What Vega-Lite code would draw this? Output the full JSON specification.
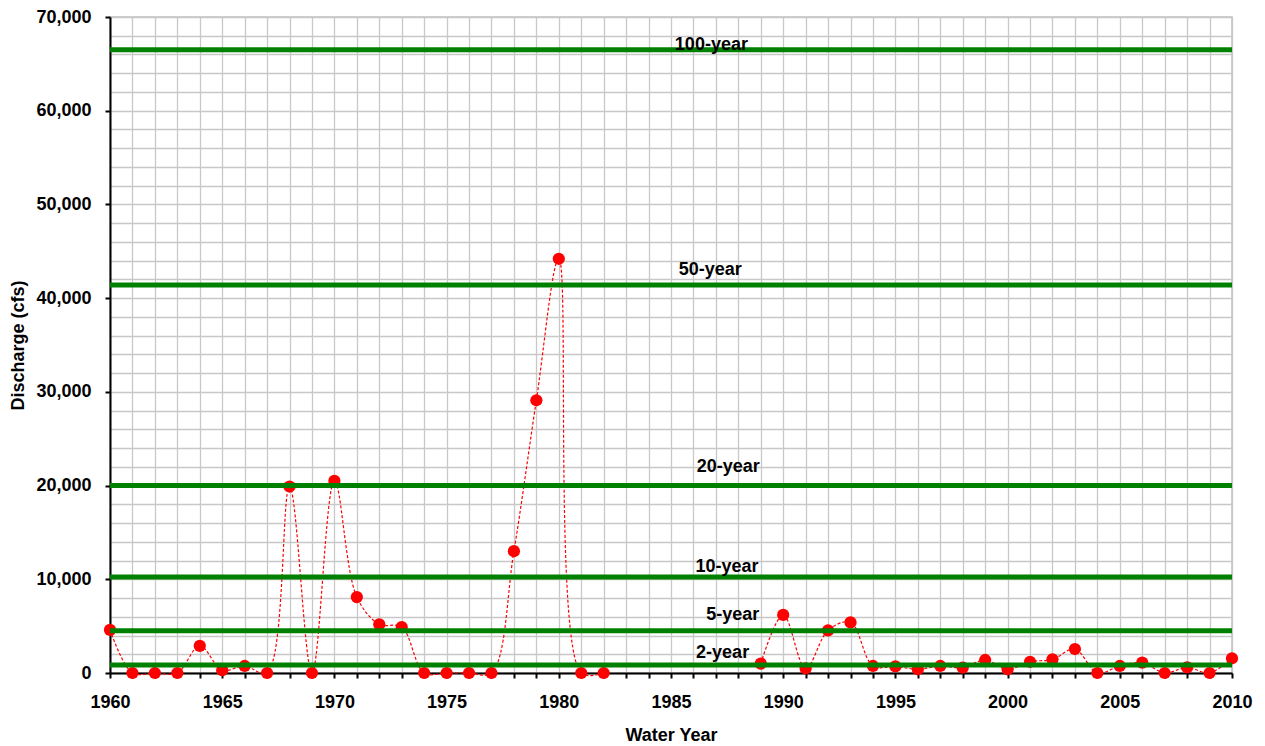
{
  "$schema": "https://vega.github.io/schema/vega-lite/v6.json",
  "width": 1122,
  "height": 656,
  "autosize": "none",
  "padding": {"left": 110, "top": 17, "right": 33, "bottom": 73},
  "background": "white",
  "config": {
    "font": "Liberation Sans",
    "view": {"stroke": "#c0c0c0", "strokeWidth": 1.5},
    "axis": {
      "labelFont": "Liberation Sans",
      "labelFontWeight": "bold",
      "labelFontSize": 18,
      "labelColor": "#000",
      "titleFont": "Liberation Sans",
      "titleFontWeight": "bold",
      "titleFontSize": 18,
      "titleColor": "#000",
      "domainColor": "#000",
      "domainWidth": 2,
      "tickColor": "#000",
      "tickWidth": 2,
      "tickSize": 5,
      "gridColor": "#c8c8c8",
      "gridWidth": 1.3
    }
  },
  "datasets": {
    "flows": [
      {"year": 1960, "q": 4600},
      {"year": 1961, "q": 0},
      {"year": 1962, "q": 0},
      {"year": 1963, "q": 0},
      {"year": 1964, "q": 2900},
      {"year": 1965, "q": 300},
      {"year": 1966, "q": 750},
      {"year": 1967, "q": 0},
      {"year": 1968, "q": 19900},
      {"year": 1969, "q": 0},
      {"year": 1970, "q": 20500},
      {"year": 1971, "q": 8100},
      {"year": 1972, "q": 5200},
      {"year": 1973, "q": 4900},
      {"year": 1974, "q": 0},
      {"year": 1975, "q": 0},
      {"year": 1976, "q": 0},
      {"year": 1977, "q": 0},
      {"year": 1978, "q": 13000},
      {"year": 1979, "q": 29100},
      {"year": 1980, "q": 44200},
      {"year": 1981, "q": 0},
      {"year": 1982, "q": 0},
      {"year": 1983, "q": null},
      {"year": 1984, "q": null},
      {"year": 1985, "q": null},
      {"year": 1986, "q": null},
      {"year": 1987, "q": null},
      {"year": 1988, "q": null},
      {"year": 1989, "q": 1000},
      {"year": 1990, "q": 6200},
      {"year": 1991, "q": 500},
      {"year": 1992, "q": 4550},
      {"year": 1993, "q": 5400},
      {"year": 1994, "q": 750},
      {"year": 1995, "q": 700},
      {"year": 1996, "q": 400},
      {"year": 1997, "q": 750},
      {"year": 1998, "q": 570},
      {"year": 1999, "q": 1390},
      {"year": 2000, "q": 400},
      {"year": 2001, "q": 1200},
      {"year": 2002, "q": 1460},
      {"year": 2003, "q": 2560},
      {"year": 2004, "q": 0},
      {"year": 2005, "q": 750},
      {"year": 2006, "q": 1100},
      {"year": 2007, "q": 0},
      {"year": 2008, "q": 600},
      {"year": 2009, "q": 0},
      {"year": 2010, "q": 1570}
    ],
    "levels": [
      {"label": "100-year", "q": 66500, "year": 1986.8, "labelQ": 67000},
      {"label": "50-year", "q": 41400, "year": 1986.75, "labelQ": 43000},
      {"label": "20-year", "q": 20000, "year": 1987.55, "labelQ": 22000},
      {"label": "10-year", "q": 10250, "year": 1987.5, "labelQ": 11300},
      {"label": "5-year", "q": 4500, "year": 1987.75, "labelQ": 6200},
      {"label": "2-year", "q": 850, "year": 1987.3, "labelQ": 2100}
    ]
  },
  "encoding": {
    "x": {
      "field": "year", "type": "quantitative",
      "scale": {"domain": [1960, 2010], "nice": false, "zero": false},
      "axis": {
        "title": "Water Year",
        "titlePadding": 15,
        "values": [1960,1961,1962,1963,1964,1965,1966,1967,1968,1969,1970,1971,1972,1973,1974,1975,1976,1977,1978,1979,1980,1981,1982,1983,1984,1985,1986,1987,1988,1989,1990,1991,1992,1993,1994,1995,1996,1997,1998,1999,2000,2001,2002,2003,2004,2005,2006,2007,2008,2009,2010],
        "labelExpr": "datum.value % 5 === 0 ? '' + datum.value : ''",
        "labelPadding": 15,
        "labelOverlap": false,
        "labelFlush": false,
        "grid": true
      }
    },
    "y": {
      "field": "q", "type": "quantitative",
      "scale": {"domain": [0, 70000], "nice": false},
      "axis": {
        "title": "Discharge (cfs)",
        "titlePadding": 8,
        "values": [0,2000,4000,6000,8000,10000,12000,14000,16000,18000,20000,22000,24000,26000,28000,30000,32000,34000,36000,38000,40000,42000,44000,46000,48000,50000,52000,54000,56000,58000,60000,62000,64000,66000,68000,70000],
        "labelExpr": "datum.value % 10000 === 0 ? format(datum.value, ',') : ''",
        "tickOpacity": {"condition": {"test": "datum.value % 10000 === 0", "value": 1}, "value": 0},
        "labelPadding": 14,
        "labelOverlap": false,
        "grid": true
      }
    }
  },
  "layer": [
    {
      "data": {"name": "flows"},
      "mark": {"type": "line", "color": "#ff0000", "strokeWidth": 1.2, "strokeDash": [3, 2], "interpolate": "catmull-rom", "invalid": "break-paths-show-domains"}
    },
    {
      "data": {"name": "flows"},
      "mark": {"type": "circle", "color": "#ff0000", "opacity": 1, "size": 150}
    },
    {
      "data": {"name": "levels"},
      "mark": {"type": "rule", "color": "#008000", "strokeWidth": 5},
      "encoding": {
        "x": {"value": 0},
        "x2": {"value": "width"}
      }
    },
    {
      "data": {"name": "levels"},
      "mark": {"type": "text", "font": "Liberation Sans", "fontWeight": "bold", "fontSize": 18, "color": "#000", "baseline": "middle", "align": "center"},
      "encoding": {
        "y": {"field": "labelQ", "type": "quantitative"},
        "text": {"field": "label", "type": "nominal"}
      }
    }
  ]
}
